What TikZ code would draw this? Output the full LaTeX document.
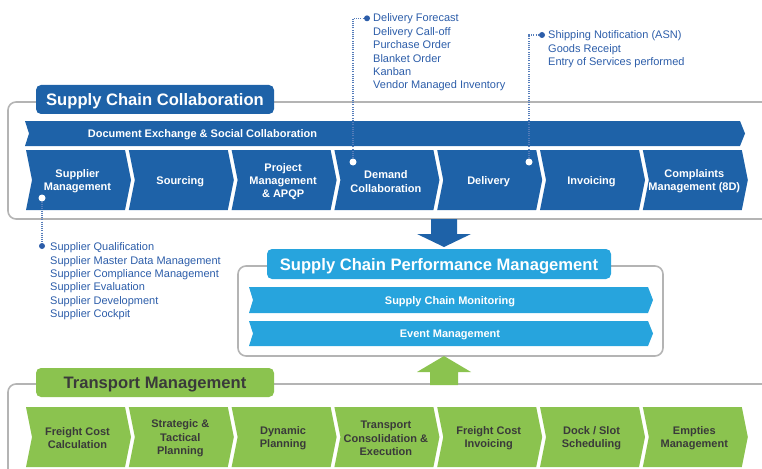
\documentclass[tikz,border=0pt]{standalone}
\usepackage{fontspec}
\setmainfont{Liberation Sans}
\usetikzlibrary{calc}
\definecolor{dblue}{HTML}{1E62A8}
\definecolor{lblue}{HTML}{27A4DD}
\definecolor{lgreen}{HTML}{8BC34F}
\definecolor{tblue}{HTML}{2C5DA9}
\definecolor{frameg}{HTML}{B4B4B4}
\definecolor{dgray}{HTML}{3A3A3A}
\newcommand{\chevpath}[6]{%
  \fill[#1] (#2,#3) -- ++(#4,0) -- ++(#6,#5/2) -- ++(-#6,#5/2) -- ++(-#4,0) -- ++(#6,-#5/2) -- cycle;}
\begin{document}
\begin{tikzpicture}[x=1pt,y=-1pt,
  frame/.style={draw=frameg, line width=1.6pt, rounded corners=8pt},
  titlebox/.style={rounded corners=5pt, inner sep=0pt, text height=12pt, text depth=0pt,
    font=\bfseries\fontsize{16.6}{20}\selectfont},
  chevtxt/.style={font=\bfseries\fontsize{11}{13.3}\selectfont, align=center, inner sep=0pt},
  bartxt/.style={font=\bfseries\fontsize{11}{13.3}\selectfont, text=white, inner sep=0pt, text height=8pt, text depth=0pt},
  listtxt/.style={font=\fontsize{11}{13.4}\selectfont, text=tblue, align=left, inner sep=0pt, anchor=north west},
  wdot/.style={circle, fill=white, inner sep=0pt, minimum size=7pt},
  bdot/.style={circle, fill=tblue, inner sep=0pt, minimum size=6pt},
  link/.style={draw=tblue!80!white, line width=1.1pt, dash pattern=on 1pt off 1.2pt}]
\useasboundingbox (0,0) rectangle (762,468);
\clip (0,0) rectangle (762,468);

% ---------- Supply Chain Collaboration ----------
\draw[frame] (790,102) -- (8,102) -- (8,219) -- (790,219);
\node[titlebox, fill=dblue, text=white, minimum width=238pt, minimum height=29pt] (scc) at (155,99.5) {Supply Chain Collaboration};
\fill[dblue] (25,121) -- (740,121) -- (745,133.5) -- (740,146) -- (25,146) -- (29,133.5) -- cycle;
\node[bartxt] (docx) at (202.5,133.5) {Document Exchange \& Social Collaboration};
\foreach \k/\lab/\nm in {0/{Supplier\\Management}/sm, 1/{Sourcing}/so, 2/{Project\\Management\\\& APQP}/pm,
  3/{Demand\\Collaboration}/dc, 4/{Delivery}/dl, 5/{Invoicing}/iv, 6/{Complaints\\Management (8D)}/cm}{
  \pgfmathsetmacro\L{26+102.8*\k}
  \chevpath{dblue}{\L}{150}{99}{60}{6}
  \node[chevtxt, text=white] (\nm) at (\L+51.5,181.5) {\lab};
}

% callouts
\node[wdot] (smdot) at (42,198) {};
\node[bdot] (smlist) at (42,246) {};
\draw[link] (smdot) -- (smlist);
\node[listtxt] (smtxt) at (50,242.5) {Supplier Qualification\\Supplier Master Data Management\\Supplier Compliance Management\\Supplier Evaluation\\Supplier Development\\Supplier Cockpit};

\node[wdot] (dcdot) at (353,162) {};
\node[bdot] (dclist) at (367,18.3) {};
\draw[link] (dcdot) |- (dclist);
\node[listtxt] (dctxt) at (373,13.8) {Delivery Forecast\\Delivery Call-off\\Purchase Order\\Blanket Order\\Kanban\\Vendor Managed Inventory};

\node[wdot] (dldot) at (529,162) {};
\node[bdot] (dllist) at (542,35) {};
\draw[link] (dldot) |- (dllist);
\node[listtxt] (dltxt) at (548,30.5) {Shipping Notification (ASN)\\Goods Receipt\\Entry of Services performed};

% ---------- Performance Management ----------
\fill[dblue] (431,219) -- (457,219) -- (457,234) -- (471,234) -- (444,247) -- (417,234) -- (431,234) -- cycle;
\draw[frame] (238,266) rectangle (663,356);
\node[titlebox, fill=lblue, text=white, minimum width=344pt, minimum height=30pt] (scpm) at (439,264) {Supply Chain Performance Management};
\fill[lblue] (249,287) -- (648,287) -- (653,300) -- (648,313) -- (249,313) -- (253,300) -- cycle;
\node[bartxt] (mon) at (450,300) {Supply Chain Monitoring};
\fill[lblue] (249,321) -- (648,321) -- (653,333.5) -- (648,346) -- (249,346) -- (253,333.5) -- cycle;
\node[bartxt] (evm) at (450,333.5) {Event Management};

% ---------- Transport Management ----------
\draw[frame] (790,384) -- (8,384) -- (8,490);
\fill[lgreen] (444,356) -- (471,372) -- (458,372) -- (458,385) -- (430,385) -- (430,372) -- (417,372) -- cycle;
\node[titlebox, fill=lgreen, text=dgray, minimum width=238pt, minimum height=29pt] (tm) at (155,382.5) {Transport Management};
\foreach \k/\lab/\nm in {0/{Freight Cost\\Calculation}/fc, 1/{Strategic \&\\Tactical\\Planning}/st, 2/{Dynamic\\Planning}/dp,
  3/{Transport\\Consolidation \&\\Execution}/tc, 4/{Freight Cost\\Invoicing}/fi, 5/{Dock / Slot\\Scheduling}/ds, 6/{Empties\\Management}/em}{
  \pgfmathsetmacro\L{26+102.8*\k}
  \chevpath{lgreen}{\L}{407}{99}{60}{6}
  \node[chevtxt, text=dgray] (\nm) at (\L+51.5,438.3) {\lab};
}
\end{tikzpicture}
\end{document}
